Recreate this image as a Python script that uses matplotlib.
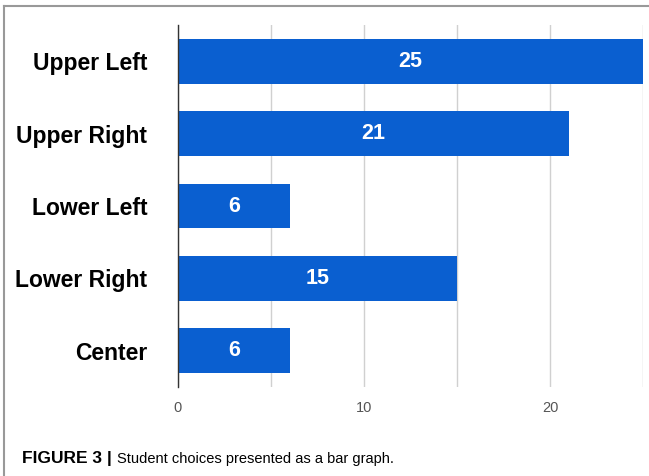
import matplotlib.pyplot as plt
from matplotlib.lines import Line2D

# data
categories = ['Upper Left', 'Upper Right', 'Lower Left', 'Lower Right', 'Center']
counts = [25, 21, 6, 15, 6]

bar_color = '#0a5fd0'

fig = plt.figure(figsize=(6.49, 4.76), dpi=100)
ax = fig.add_axes([178 / 649, 1 - 387 / 476, (643 - 178) / 649, (387 - 25) / 476])

ypos = list(range(len(categories)))
ax.barh(ypos, counts, height=0.62, color=bar_color, zorder=3)
ax.set_ylim(len(categories) - 0.5, -0.5)
ax.set_xlim(0, 25)

for y, v in zip(ypos, counts):
    ax.text(v / 2, y, str(v), ha='center', va='center', color='white',
            fontsize=15.5, fontweight='bold', family='Liberation Sans', zorder=4)

ax.set_yticks(ypos)
ax.set_yticklabels(categories, fontsize=16.5, fontweight='bold', family='Liberation Sans')
ax.tick_params(axis='y', length=0, pad=22)

ax.set_xticks([0, 5, 10, 15, 20, 25])
ax.set_xticklabels(['0', '', '10', '', '20', ''], fontsize=10.5, color='#555555',
                   family='Liberation Sans')
ax.tick_params(axis='x', length=0, pad=10)
ax.grid(axis='x', color='#d0d0d0', linewidth=1, zorder=0)

for s in ['top', 'right', 'bottom']:
    ax.spines[s].set_visible(False)
ax.spines['left'].set_color('#333333')
ax.spines['left'].set_linewidth(1)
ax.spines['left'].set_zorder(5)

# grey frame (top and left edge)
fig.add_artist(Line2D([4 / 649, 1], [1 - 6 / 476, 1 - 6 / 476], color='#999999', lw=1.5))
fig.add_artist(Line2D([4 / 649, 4 / 649], [0, 1 - 6 / 476], color='#999999', lw=1.5))

# caption
t = fig.text(22 / 649, 1 - 459 / 476, 'FIGURE 3 |', fontsize=12.5, fontweight='bold',
             family='Liberation Sans', va='center', ha='left')
fig.canvas.draw()
bb = t.get_window_extent()
fig.text((bb.x1 + 5) / 649, 1 - 459 / 476, 'Student choices presented as a bar graph.',
         fontsize=10.5, family='Liberation Sans', va='center', ha='left')

fig.savefig('out.png', dpi=100)
